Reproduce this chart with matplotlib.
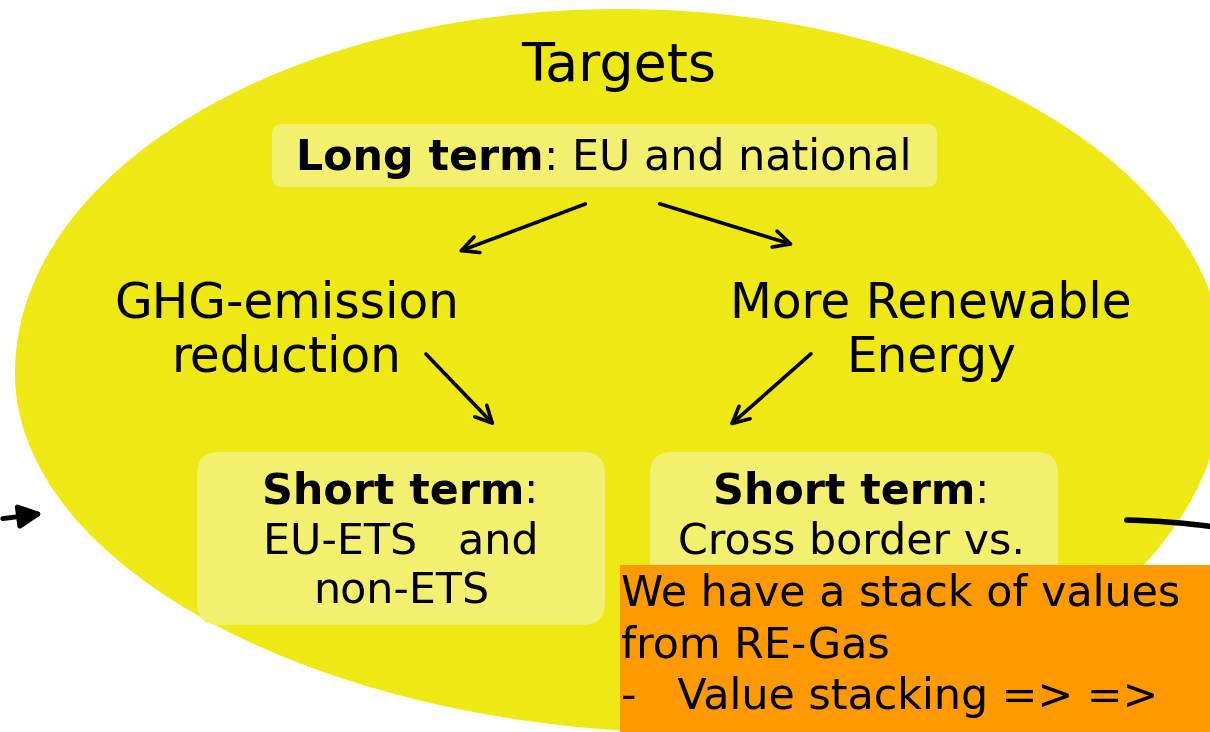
import matplotlib
matplotlib.use("Agg")
import matplotlib.pyplot as plt
from matplotlib.patches import FancyBboxPatch, Rectangle, FancyArrowPatch, PathPatch
from matplotlib.path import Path

# texts of the diagram
title = "Targets"
long_bold = "Long term"
long_rest = ": EU and national"
left_goal = ["GHG-emission", "reduction"]
right_goal = ["More Renewable", "Energy"]
short_bold = "Short term"
left_short = ["EU-ETS   and", "non-ETS"]
right_short = ["Cross border vs."]
note_lines = ["We have a stack of values", "from RE-Gas", "-   Value stacking => =>"]

YELLOW = "#EEE915"
LIGHT = "#F2F06E"
ORANGE = "#FF9900"
FS = 30.8

fig = plt.figure(figsize=(12.1, 7.32), dpi=100)
ax = fig.add_axes([0, 0, 1, 1])
ax.set_xlim(0, 1210)
ax.set_ylim(732, 0)
ax.axis("off")

# big egg-shaped blob (bezier, flatter at lower left)
verts = [(15, 373),
         (15, 570), (330, 733), (700, 733),
         (990, 733), (1225, 571), (1225, 373),
         (1225, 172), (954, 9), (620, 9),
         (286, 9), (15, 172), (15, 373)]
codes = [Path.MOVETO] + [Path.CURVE4] * 12
ax.add_patch(PathPatch(Path(verts, codes), fc=YELLOW, ec="none", zorder=1))

# boxes
ax.add_patch(FancyBboxPatch((280, 132), 649, 47, boxstyle="round,pad=8,rounding_size=10",
                            fc=LIGHT, ec="none", zorder=2))
ax.add_patch(FancyBboxPatch((217, 472), 368, 133, boxstyle="round,pad=20,rounding_size=22",
                            fc=LIGHT, ec="none", zorder=2))
ax.add_patch(FancyBboxPatch((670, 472), 368, 133, boxstyle="round,pad=20,rounding_size=22",
                            fc=LIGHT, ec="none", zorder=2))

# texts
ax.text(619, 81, title, fontsize=38.8, ha="center", va="baseline", zorder=5)
ax.text(544, 170, long_bold, fontsize=FS, fontweight="bold", ha="right", va="baseline", zorder=5)
ax.text(544, 170, long_rest, fontsize=FS, ha="left", va="baseline", zorder=5)

for i, s in enumerate(left_goal):
    ax.text(287, 318 + 54 * i, s, fontsize=35, ha="center", va="baseline", zorder=5)
for i, s in enumerate(right_goal):
    ax.text(931, 318 + 54 * i, s, fontsize=35, ha="center", va="baseline", zorder=5)

for xr, xc, lines in [(524, 401, left_short), (975, 852, right_short)]:
    ax.text(xr, 503, short_bold, fontsize=FS, fontweight="bold", ha="right", va="baseline", zorder=5)
    ax.text(xr, 503, ":", fontsize=FS, ha="left", va="baseline", zorder=5)
    for i, s in enumerate(lines):
        ax.text(xc, 553 + 50 * i, s, fontsize=FS, ha="center", va="baseline", zorder=5)

# arrows
arrows = [((588, 203), (455, 253)), ((657, 203), (797, 246)),
          ((424, 352), (497, 428)), ((813, 352), (727, 428))]
for a, b in arrows:
    ax.add_patch(FancyArrowPatch(a, b, arrowstyle="->,head_length=12,head_width=6",
                                 mutation_scale=1, lw=2.6, color="black", zorder=4))

ax.add_patch(FancyArrowPatch((0, 519), (46, 513), arrowstyle="-|>,head_length=14,head_width=7",
                             mutation_scale=1, lw=3.5, color="black", zorder=4))
ax.add_patch(FancyArrowPatch((1124, 520), (1215, 527), arrowstyle="-",
                             connectionstyle="arc3,rad=-0.03", lw=4, color="black", zorder=4))

# orange note
ax.add_patch(Rectangle((620, 565), 600, 180, fc=ORANGE, ec="none", zorder=6))
for i, s in enumerate(note_lines):
    ax.text(621, 605 + 52 * i, s, fontsize=FS, ha="left", va="baseline", zorder=7)

fig.savefig("out.png", dpi=100)
